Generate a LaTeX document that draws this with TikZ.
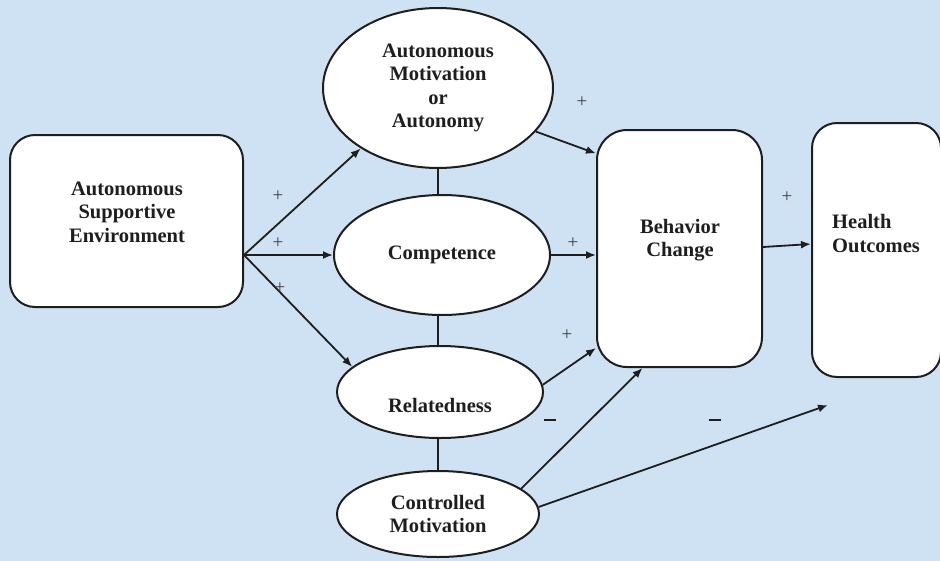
\documentclass[tikz,border=0pt]{standalone}
\usepackage{fontspec}
\setmainfont{Liberation Serif}
\usetikzlibrary{arrows.meta,shapes.geometric,calc}
\definecolor{bgblue}{HTML}{CFE2F3}
\definecolor{ink}{HTML}{1E1E1E}
\begin{document}
\begin{tikzpicture}[x=1pt,y=-1pt,
  boxshape/.style={draw=ink,line width=2pt,fill=white,rectangle,inner sep=0pt},
  ellshape/.style={draw=ink,line width=2pt,fill=white,ellipse,inner sep=0pt,
     font=\fontsize{20.5}{23.5}\selectfont\bfseries,align=center,text=ink},
  lbl/.style={font=\fontsize{20.5}{23.5}\selectfont\bfseries,align=center,text=ink,inner sep=0pt},
  sign/.style={font=\fontsize{19}{19}\selectfont,text=ink!85,inner sep=0pt},
  conn/.style={draw=ink,line width=1.8pt},
  arr/.style={conn,-{Latex[length=10pt,width=8pt]}}]
\useasboundingbox (0,0) rectangle (940,560);
\fill[bgblue] (-2,-2) rectangle (942,562);

% boxes
\node[boxshape,rounded corners=25pt,minimum width=233pt,minimum height=172pt] (lb) at (126.5,221) {};
\node[lbl] (lbt) at (127,212) {Autonomous\\Supportive\\Environment};
\node[boxshape,rounded corners=30pt,minimum width=165pt,minimum height=237pt] (bc) at (679.5,248.5) {};
\node[lbl] (bct) at (680,240) {Behavior\\Change};
\node[boxshape,rounded corners=25pt,minimum width=129pt,minimum height=254pt] (ho) at (876.5,250) {};
\node[lbl,align=left,anchor=west] (hot) at (832,233.5) {Health\\Outcomes};

% ellipses
\node[ellshape,minimum width=230pt,minimum height=160pt] (ea) at (438,88) {Autonomous\\Motivation\\or\\Autonomy};
\node[ellshape,minimum width=216pt,minimum height=120pt] (ec) at (442,255) {Competence};
\node[ellshape,minimum width=206pt,minimum height=92pt] (er) at (440,392) {};
\node[lbl] (ert) at (440,405) {Relatedness};
\node[ellshape,minimum width=202pt,minimum height=86pt] (em) at (438,514) {Controlled\\Motivation};

% vertical links
\draw[conn] (ea.south) -- (ea.south |- ec.north);
\draw[conn] (ec.south -| ea.south) -- (ea.south |- er.north);
\draw[conn] (er.south -| ea.south) -- (ea.south |- em.north);

% arrows from environment
\coordinate (lbo) at ([yshift=-34pt]lb.east);
\draw[arr] (lbo) -- (ea.218);
\draw[arr] (lbo) -- (lbo -| ec.west);
\draw[arr] (lbo) -- (er.164);

% arrows to behavior change
\draw[arr] (ea.336) -- ([yshift=95pt]bc.west);
\draw[arr] (ec.east) -- (ec.east -| bc.west);
\draw[arr] (er.4) -- ([yshift=-99.5pt]bc.west);
\draw[arr] (em.17) -- ([xshift=-37pt]bc.south);

% to health outcomes
\coordinate (free) at (828,405);
\draw[arr] (em.4) -- (free);
\draw[arr] ([yshift=1.5pt]bc.east) -- ([yshift=6pt]ho.west);

% signs
\node[sign] (p1) at (278,196) {+};
\node[sign] (p2) at (278,243) {+};
\node[sign] (p3) at (280,288) {+};
\node[sign] (p4) at (582,102) {+};
\node[sign] (p5) at (573,243) {+};
\node[sign] (p6) at (567,335) {+};
\node[sign] (p7) at (787,197) {+};
\draw[ink,line width=2pt] (544,420) -- (556,420);
\draw[ink,line width=2pt] (709,420) -- (721,420);
\end{tikzpicture}
\end{document}
